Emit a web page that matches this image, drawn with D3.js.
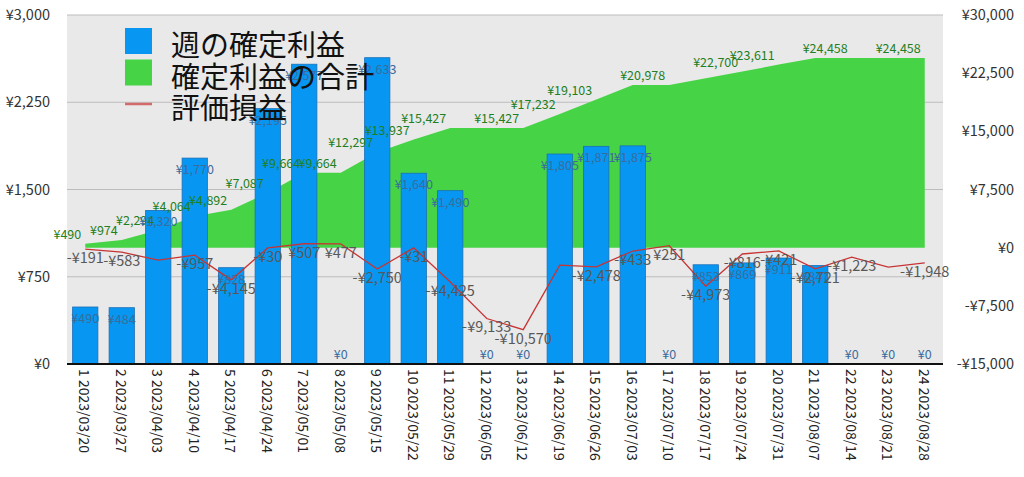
<!DOCTYPE html>
<html><head><meta charset="utf-8">
<script src="https://cdn.jsdelivr.net/npm/d3@7"></script>
<style>
html,body{margin:0;padding:0;background:#fff;}
svg text{font-family:"Noto Sans CJK JP","Noto Sans",sans-serif;}
</style></head>
<body><svg id="c" width="1024" height="477"></svg>
<script>
const weeks = ["1 2023/03/20","2 2023/03/27","3 2023/04/03","4 2023/04/10","5 2023/04/17","6 2023/04/24","7 2023/05/01","8 2023/05/08","9 2023/05/15","10 2023/05/22","11 2023/05/29","12 2023/06/05","13 2023/06/12","14 2023/06/19","15 2023/06/26","16 2023/07/03","17 2023/07/10","18 2023/07/17","19 2023/07/24","20 2023/07/31","21 2023/08/07","22 2023/08/14","23 2023/08/21","24 2023/08/28"];
const weeklyProfit = [490,484,1320,1770,828,2195,2577,0,2633,1640,1490,0,0,1805,1871,1875,0,853,869,911,847,0,0,0];
const cumulativeProfit = [490,974,2294,4064,4892,7087,9664,9664,12297,13937,15427,15427,15427,17232,19103,20978,20978,21831,22700,23611,24458,24458,24458,24458];
const unrealized = [-191,-583,-1600,-957,-4145,-30,507,477,-2750,-31,-4425,-9133,-10570,-2250,-2478,-433,251,-4973,-816,-421,-2721,-1223,-2500,-1948];
const cumLabelHidden = [12,16,18,21,23];
const pnlLabelHidden = [3,14,23];
const leftTicks = [0,750,1500,2250,3000];
const rightTicks = [-15000,-7500,0,7500,15000,22500,30000];
const legendNames = ["週の確定利益","確定利益の合計","評価損益"];

const svg = d3.select("#c");
const L = 67, R = 943, T = 15, B = 364;
const x = d3.scaleBand().domain(weeks).range([L, R]).paddingInner(0.28).paddingOuter(0.14);
const yL = d3.scaleLinear().domain([0, 3000]).range([B, T]);
const yR = d3.scaleLinear().domain([-15000, 30000]).range([B, T]);
const cx = d => x(d) + x.bandwidth() / 2;
const yen = v => (v < 0 ? "-¥" : "¥") + d3.format(",")(Math.abs(v));

// background
svg.append("rect").attr("x", L).attr("y", T).attr("width", R - L).attr("height", B - T).attr("fill", "#e9e9e9");
// gridlines
svg.append("g").selectAll("line").data(leftTicks.filter(t => t > 0)).join("line")
  .attr("x1", L).attr("x2", R).attr("y1", d => yL(d)).attr("y2", d => yL(d))
  .attr("stroke", "#bdbdbd").attr("stroke-width", 1);

// area
const area = d3.area().x((d, i) => cx(weeks[i])).y0(yR(0)).y1(d => yR(d));
svg.append("path").datum(cumulativeProfit).attr("d", area).attr("fill", "#46d446");

// bars
svg.append("g").selectAll("rect").data(weeklyProfit).join("rect")
  .attr("x", (d, i) => x(weeks[i]) + 0.5).attr("y", d => yL(d))
  .attr("width", x.bandwidth() - 1).attr("height", d => B - yL(d))
  .attr("fill", "#0797f2").attr("stroke", d => d > 0 ? "#1a6fb8" : "none").attr("stroke-width", 0.8);

// line
const line = d3.line().x((d, i) => cx(weeks[i])).y(d => yR(d));
svg.append("path").datum(unrealized).attr("d", line).attr("fill", "none")
  .attr("stroke", "#c83434").attr("stroke-width", 1.3);

// area labels
svg.append("g").selectAll("text").data(cumulativeProfit.map((v, i) => ({v, i})).filter(d => !cumLabelHidden.includes(d.i + 1))).join("text")
  .attr("x", d => cx(weeks[d.i]) - 4).attr("y", d => yR(d.v) - 5)
  .attr("text-anchor", "end").attr("font-size", 12.5).attr("fill", "#1f7f22").text(d => yen(d.v));

// bar labels
svg.append("g").selectAll("text").data(weeklyProfit).join("text")
  .attr("x", (d, i) => cx(weeks[i])).attr("y", d => d > 0 ? yL(d) + 16 : B - 5)
  .attr("text-anchor", "middle").attr("font-size", 12.5).attr("fill", "#3a6c9c").text(d => yen(d));

// line labels
svg.append("g").selectAll("text").data(unrealized.map((v, i) => ({v, i})).filter(d => !pnlLabelHidden.includes(d.i + 1))).join("text")
  .attr("x", d => cx(weeks[d.i])).attr("y", d => yR(d.v) + 14)
  .attr("text-anchor", "middle").attr("font-size", 14.5).attr("fill", "#585858").text(d => yen(d.v));

// legend
const lg = svg.append("g");
const rowY = [41, 72.5, 104];
lg.append("rect").attr("x", 125).attr("y", rowY[0] - 13).attr("width", 27).attr("height", 26).attr("fill", "#0797f2");
lg.append("rect").attr("x", 125).attr("y", rowY[1] - 13).attr("width", 27).attr("height", 26).attr("fill", "#46d446");
lg.append("line").attr("x1", 125).attr("x2", 152).attr("y1", rowY[2]).attr("y2", rowY[2]).attr("stroke", "#d36a6a").attr("stroke-width", 2.5);
lg.selectAll("text").data(legendNames).join("text")
  .attr("x", 171).attr("y", (d, i) => rowY[i] + 2).attr("dominant-baseline", "central")
  .attr("font-size", 29).attr("fill", "#111").text(d => d);

// axes
svg.append("g").selectAll("text").data(leftTicks).join("text")
  .attr("x", 50).attr("y", d => yL(d)).attr("dy", "0.35em").attr("text-anchor", "end")
  .attr("font-size", 14.5).attr("fill", "#333").text(d => yen(d));
svg.append("g").selectAll("text").data(rightTicks).join("text")
  .attr("x", 1014).attr("y", d => yR(d)).attr("dy", "0.35em").attr("text-anchor", "end")
  .attr("font-size", 14.5).attr("fill", "#333").text(d => yen(d));
svg.append("line").attr("x1", L).attr("x2", R).attr("y1", B).attr("y2", B).attr("stroke", "#111").attr("stroke-width", 2);
svg.append("g").selectAll("text").data(weeks).join("text")
  .attr("transform", d => `translate(${cx(d)},369) rotate(90)`)
  .attr("dominant-baseline", "central").attr("font-size", 14).attr("fill", "#222").text(d => d);
</script></body></html>
